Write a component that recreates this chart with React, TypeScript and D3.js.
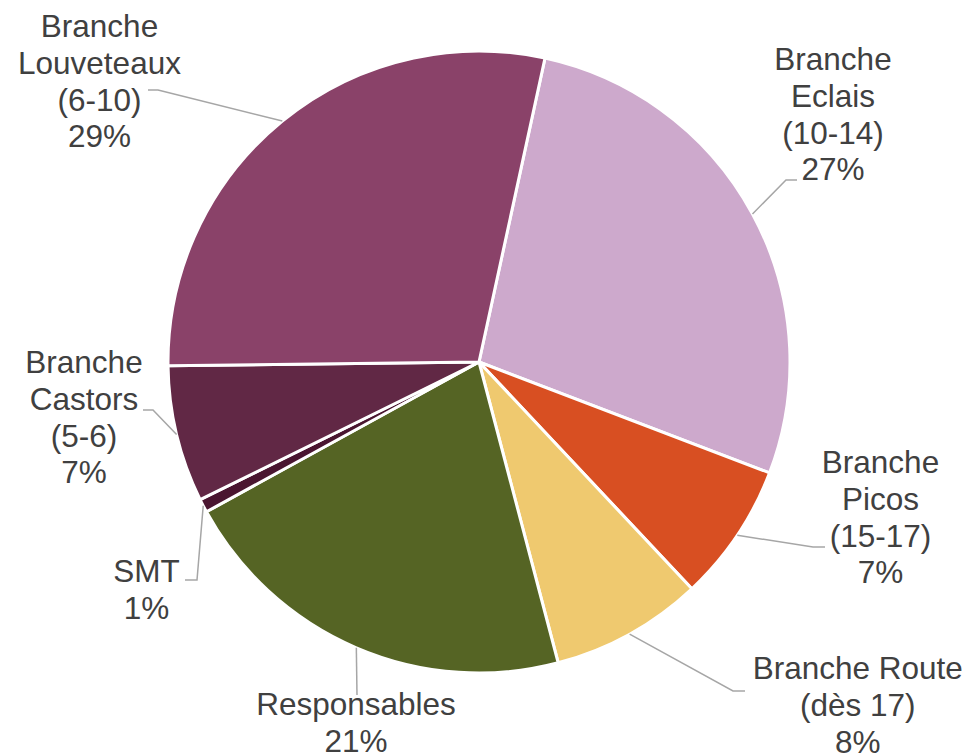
import { useMemo } from "react";
import * as d3 from "d3";

// categories in drawing order (clockwise from the first slice)
const categories = ["Eclais", "Picos", "Route", "Responsables", "SMT", "Castors", "Louveteaux"];
const shares = [27.4, 7.2, 7.9, 21.1, 0.7, 7.1, 28.6];
const labelLines = [
  ["Branche", "Eclais", "(10-14)"],
  ["Branche", "Picos", "(15-17)"],
  ["Branche Route", "(dès 17)"],
  ["Responsables"],
  ["SMT"],
  ["Branche", "Castors", "(5-6)"],
  ["Branche", "Louveteaux", "(6-10)"],
];
const colors = ["#CDA9CC", "#D84F22", "#EFC96F", "#556424", "#4A1530", "#612845", "#8A4269"];

const W = 969;
const H = 755;
const CX = 479;
const CY = 362;
const R = 311;
const FIRST_ANGLE = 12.25; // degrees
const FONT = 31.5;
const LINE_H = 36.8;

// label placement (x centre, first baseline) and leader line elbow/end
const labelLayout: Record<string, { x: number; y: number; leader: [number, number][] }> = {
  Eclais: { x: 833, y: 70, leader: [[786, 180], [797, 180]] },
  Picos: { x: 880.5, y: 473, leader: [[813, 547], [825, 547]] },
  Route: { x: 857.7, y: 679, leader: [[733, 691], [745, 691]] },
  Responsables: { x: 356, y: 715, leader: [[357, 695]] },
  SMT: { x: 146.5, y: 582, leader: [[197, 580], [185, 580]] },
  Castors: { x: 84, y: 373, leader: [[153, 410], [143, 410]] },
  Louveteaux: { x: 99.5, y: 37, leader: [[158, 90], [148, 90]] },
};

export default function App() {
  const rows = useMemo(
    () => categories.map((c, i) => ({ name: c, value: shares[i], lines: labelLines[i], color: colors[i] })),
    []
  );
  const total = d3.sum(shares);
  const start = (FIRST_ANGLE * Math.PI) / 180;
  const pie = d3
    .pie<any>()
    .sort(null)
    .value((d: any) => d.value)
    .startAngle(start)
    .endAngle(start + 2 * Math.PI);
  const arcs = pie(rows);
  const arc = d3.arc<any>().innerRadius(0).outerRadius(R);
  const edge = d3.arc<any>().innerRadius(R).outerRadius(R);
  const line = d3.line();

  return (
    <svg
      width={W}
      height={H}
      style={{ position: "absolute", left: 0, top: 0, background: "#fff" }}
      fontFamily="'Liberation Sans', Arial, sans-serif"
    >
      <g transform={`translate(${CX},${CY})`}>
        {arcs.map((a: any) => (
          <path key={a.data.name} d={arc(a) || ""} fill={a.data.color} stroke="#fff" strokeWidth={3} strokeLinejoin="round" />
        ))}
      </g>
      {arcs.map((a: any) => {
        const [ex, ey] = edge.centroid(a);
        const lay = labelLayout[a.data.name];
        const pts: [number, number][] = [[CX + ex, CY + ey], ...lay.leader];
        return (
          <path key={"l" + a.data.name} d={line(pts) || ""} fill="none" stroke="#A6A6A6" strokeWidth={1.5} />
        );
      })}
      {arcs.map((a: any) => {
        const lay = labelLayout[a.data.name];
        const lines = [...a.data.lines, `${Math.round((a.data.value / total) * 100)}%`];
        return (
          <text key={"t" + a.data.name} x={lay.x} y={lay.y} textAnchor="middle" fontSize={FONT} fill="#404040">
            {lines.map((s: string, i: number) => (
              <tspan key={i} x={lay.x} y={lay.y + i * LINE_H}>
                {s}
              </tspan>
            ))}
          </text>
        );
      })}
    </svg>
  );
}
